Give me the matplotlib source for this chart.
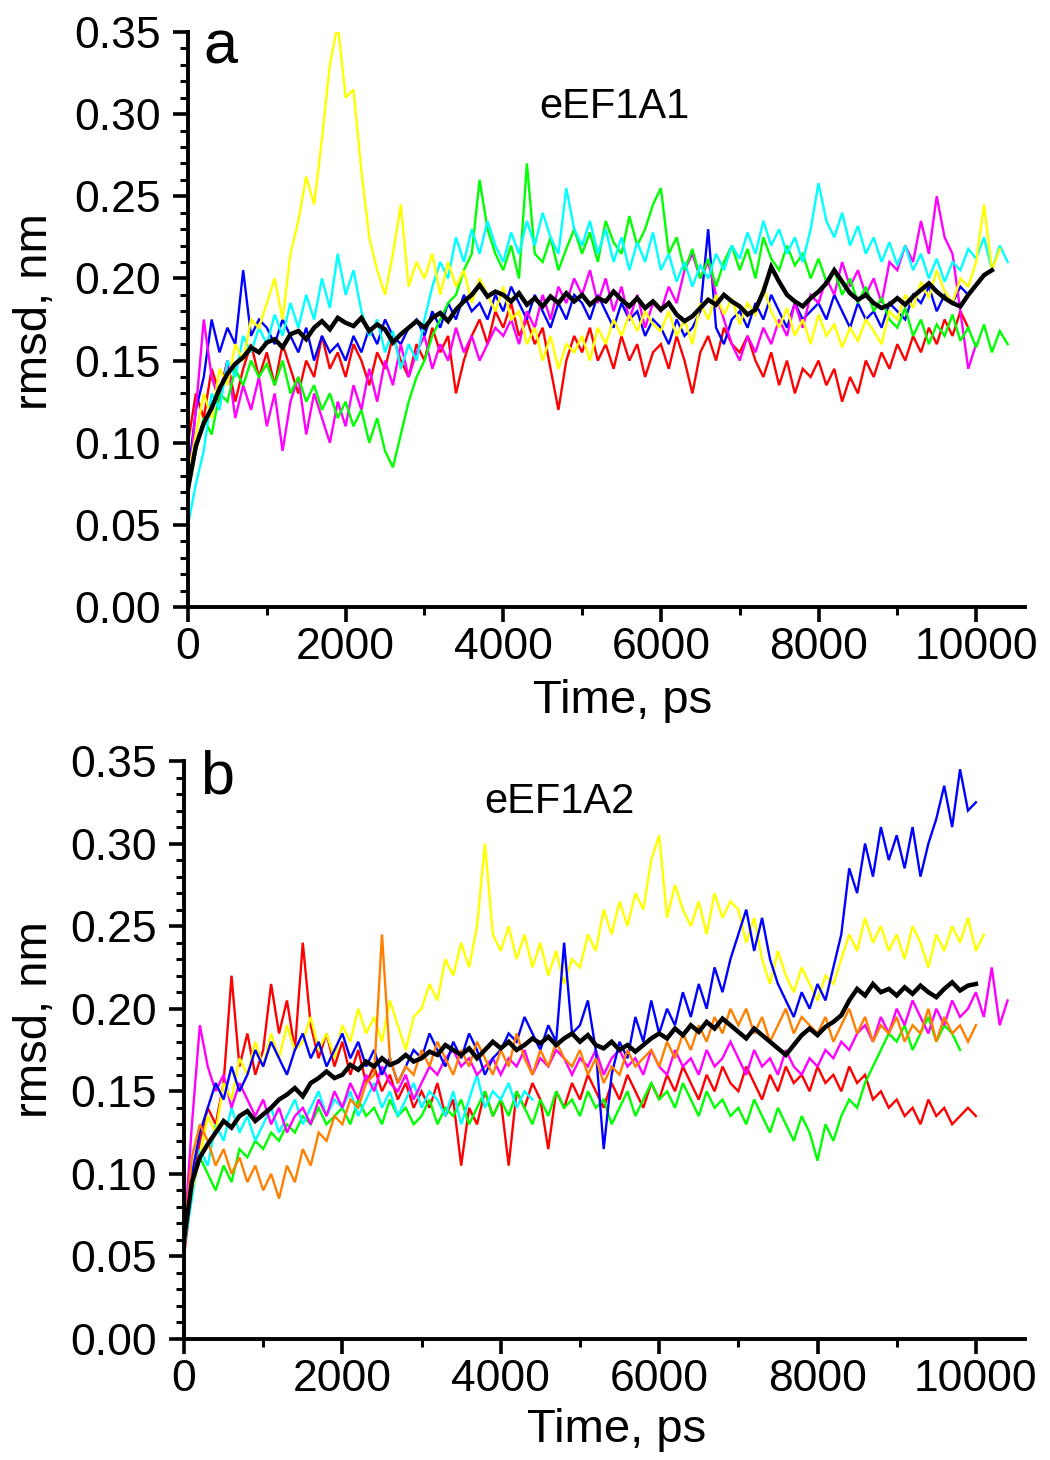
import numpy as np
import matplotlib
matplotlib.use('Agg')
import matplotlib.pyplot as plt
from matplotlib.ticker import MultipleLocator

plt.rcParams['font.family'] = ['Liberation Sans', 'DejaVu Sans']

# traces are sampled every dt ps, starting at t = 0
dt = 100

# ---- panel a: eEF1A1 (rmsd, nm) ----
a_red = [
    0.100, 0.130, 0.115, 0.145, 0.130, 0.150, 0.125, 0.145, 0.160, 0.140,
    0.155, 0.135, 0.160, 0.145, 0.130, 0.150, 0.140, 0.165, 0.145, 0.155,
    0.140, 0.160, 0.150, 0.135, 0.155, 0.145, 0.165, 0.150, 0.140, 0.160,
    0.150, 0.170, 0.155, 0.165, 0.130, 0.150, 0.165, 0.175, 0.160, 0.180,
    0.170, 0.185, 0.165, 0.175, 0.160, 0.170, 0.145, 0.120, 0.150, 0.165,
    0.155, 0.170, 0.150, 0.160, 0.145, 0.165, 0.150, 0.160, 0.140, 0.155,
    0.160, 0.145, 0.165, 0.150, 0.130, 0.155, 0.165, 0.150, 0.170, 0.160,
    0.155, 0.165, 0.150, 0.140, 0.155, 0.135, 0.150, 0.130, 0.145, 0.140,
    0.150, 0.135, 0.145, 0.125, 0.140, 0.130, 0.150, 0.140, 0.155, 0.145,
    0.160, 0.150, 0.165, 0.155, 0.170, 0.160, 0.175, 0.165, 0.180, 0.170,
]
a_blue = [
    0.080, 0.120, 0.140, 0.175, 0.155, 0.170, 0.160, 0.205, 0.165, 0.175,
    0.170, 0.160, 0.175, 0.165, 0.155, 0.170, 0.150, 0.165, 0.155, 0.160,
    0.150, 0.165, 0.155, 0.170, 0.160, 0.175, 0.165, 0.160, 0.170, 0.175,
    0.165, 0.180, 0.170, 0.185, 0.175, 0.190, 0.180, 0.185, 0.175, 0.190,
    0.180, 0.195, 0.185, 0.175, 0.190, 0.180, 0.170, 0.185, 0.175, 0.190,
    0.185, 0.175, 0.190, 0.180, 0.170, 0.185, 0.175, 0.180, 0.165, 0.175,
    0.170, 0.160, 0.175, 0.165, 0.170, 0.180, 0.230, 0.170, 0.160, 0.175,
    0.180, 0.170, 0.185, 0.175, 0.190, 0.180, 0.170, 0.185, 0.175, 0.180,
    0.185, 0.175, 0.190, 0.180, 0.170, 0.185, 0.175, 0.180, 0.170, 0.185,
    0.180, 0.175, 0.190, 0.185, 0.195, 0.180, 0.190, 0.185, 0.195, 0.190,
]
a_magenta = [
    0.070, 0.120, 0.175, 0.140, 0.125, 0.150, 0.115, 0.135, 0.120, 0.140,
    0.110, 0.130, 0.095, 0.125, 0.140, 0.105, 0.130, 0.115, 0.100, 0.125,
    0.110, 0.135, 0.120, 0.145, 0.125, 0.150, 0.135, 0.160, 0.140, 0.155,
    0.165, 0.145, 0.160, 0.150, 0.170, 0.155, 0.165, 0.150, 0.160, 0.170,
    0.165, 0.175, 0.160, 0.180, 0.170, 0.190, 0.175, 0.195, 0.185, 0.200,
    0.190, 0.205, 0.185, 0.200, 0.180, 0.195, 0.175, 0.190, 0.170, 0.185,
    0.180, 0.195, 0.185, 0.205, 0.215, 0.200, 0.210, 0.190, 0.175, 0.160,
    0.150, 0.165, 0.155, 0.170, 0.160, 0.175, 0.165, 0.185, 0.170, 0.190,
    0.185, 0.200, 0.190, 0.210, 0.195, 0.205, 0.190, 0.200, 0.185, 0.210,
    0.205, 0.220, 0.210, 0.235, 0.215, 0.250, 0.225, 0.215, 0.180, 0.145,
    0.160,
]
a_green = [
    0.070, 0.095, 0.115, 0.105, 0.130, 0.125, 0.145, 0.135, 0.150, 0.140,
    0.148, 0.135, 0.150, 0.130, 0.140, 0.125, 0.135, 0.120, 0.130, 0.115,
    0.125, 0.110, 0.120, 0.100, 0.115, 0.095, 0.085, 0.105, 0.125, 0.140,
    0.150, 0.165, 0.175, 0.185, 0.190, 0.205, 0.215, 0.260, 0.230, 0.215,
    0.205, 0.220, 0.200, 0.270, 0.215, 0.210, 0.225, 0.205, 0.218, 0.230,
    0.215, 0.228, 0.210, 0.235, 0.222, 0.215, 0.238, 0.220, 0.230, 0.245,
    0.255, 0.215, 0.225, 0.205, 0.218, 0.200, 0.212, 0.195, 0.210, 0.220,
    0.205, 0.218, 0.200, 0.225, 0.212, 0.205, 0.220, 0.208, 0.215, 0.200,
    0.212, 0.198, 0.205, 0.190, 0.200, 0.185, 0.195, 0.180, 0.188, 0.175,
    0.170, 0.182, 0.165, 0.175, 0.160, 0.172, 0.165, 0.178, 0.162, 0.170,
    0.158, 0.172, 0.155, 0.168, 0.160,
]
a_cyan = [
    0.050, 0.075, 0.095, 0.130, 0.120, 0.150, 0.140, 0.165, 0.155, 0.170,
    0.160, 0.178, 0.165, 0.185, 0.170, 0.190, 0.175, 0.200, 0.182, 0.215,
    0.190, 0.205, 0.180, 0.165, 0.175, 0.155, 0.168, 0.145, 0.160, 0.150,
    0.175, 0.195, 0.210, 0.200, 0.225, 0.210, 0.230, 0.215, 0.235, 0.220,
    0.210, 0.228, 0.215, 0.235, 0.220, 0.240, 0.225, 0.215, 0.255, 0.230,
    0.220, 0.235, 0.215, 0.230, 0.210, 0.225, 0.205, 0.222, 0.210, 0.228,
    0.205, 0.215, 0.198, 0.210, 0.195, 0.208, 0.200, 0.215, 0.205, 0.220,
    0.212, 0.228, 0.215, 0.235, 0.220, 0.230, 0.215, 0.225, 0.210, 0.230,
    0.258, 0.235, 0.225, 0.240, 0.220, 0.232, 0.215, 0.225, 0.210, 0.222,
    0.208, 0.220, 0.205, 0.215, 0.200, 0.212, 0.198, 0.210, 0.205, 0.218,
    0.212, 0.225, 0.205, 0.220, 0.210,
]
a_yellow = [
    0.080, 0.105, 0.130, 0.115, 0.145, 0.135, 0.160, 0.150, 0.175, 0.170,
    0.185, 0.200, 0.175, 0.215, 0.235, 0.262, 0.245, 0.285, 0.330, 0.355,
    0.310, 0.315, 0.265, 0.225, 0.205, 0.190, 0.215, 0.245, 0.195, 0.210,
    0.200, 0.215, 0.190, 0.210, 0.195, 0.205, 0.185, 0.200, 0.190, 0.180,
    0.195, 0.175, 0.180, 0.160, 0.170, 0.150, 0.165, 0.145, 0.160, 0.155,
    0.165, 0.150, 0.170, 0.160, 0.175, 0.165, 0.178, 0.168, 0.180, 0.172,
    0.168, 0.180, 0.165, 0.175, 0.160, 0.185, 0.175, 0.190, 0.178, 0.188,
    0.172, 0.185, 0.178, 0.195, 0.180, 0.170, 0.182, 0.165, 0.175, 0.160,
    0.178, 0.165, 0.172, 0.158, 0.170, 0.162, 0.175, 0.168, 0.160, 0.180,
    0.175, 0.190, 0.182, 0.198, 0.188, 0.205, 0.192, 0.185, 0.200, 0.195,
    0.210, 0.245, 0.205, 0.218,
]
a_black = [
    0.072, 0.098, 0.112, 0.121, 0.133, 0.142, 0.148, 0.152, 0.158, 0.155,
    0.161, 0.163, 0.158, 0.166, 0.168, 0.163, 0.170, 0.174, 0.169, 0.176,
    0.173, 0.171, 0.176, 0.168, 0.172, 0.169, 0.161, 0.166, 0.170, 0.174,
    0.170, 0.176, 0.179, 0.174, 0.181, 0.186, 0.190, 0.196, 0.189, 0.192,
    0.190, 0.186, 0.191, 0.184, 0.188, 0.183, 0.189, 0.185, 0.191, 0.186,
    0.190, 0.184, 0.188, 0.186, 0.192, 0.187, 0.183, 0.188, 0.182, 0.186,
    0.181, 0.185, 0.178, 0.174, 0.177, 0.182, 0.187, 0.184, 0.190, 0.186,
    0.183, 0.178, 0.181, 0.192, 0.207, 0.198, 0.190, 0.186, 0.183, 0.188,
    0.192, 0.197, 0.205, 0.198, 0.191, 0.187, 0.190, 0.185, 0.182, 0.184,
    0.188, 0.184, 0.189, 0.193, 0.197, 0.192, 0.188, 0.185, 0.183, 0.190,
    0.196, 0.202, 0.205,
]

# ---- panel b: eEF1A2 (rmsd, nm) ----
b_red = [
    0.050, 0.090, 0.120, 0.140, 0.130, 0.155, 0.220, 0.165, 0.185, 0.160,
    0.175, 0.215, 0.185, 0.205, 0.175, 0.240, 0.190, 0.170, 0.185, 0.165,
    0.180, 0.160, 0.175, 0.155, 0.165, 0.150, 0.160, 0.145, 0.155, 0.140,
    0.150, 0.140, 0.155, 0.135, 0.145, 0.105, 0.140, 0.130, 0.150, 0.135,
    0.145, 0.105, 0.150, 0.140, 0.155, 0.145, 0.115, 0.150, 0.140, 0.155,
    0.145, 0.160, 0.150, 0.140, 0.155, 0.145, 0.160, 0.150, 0.140, 0.155,
    0.145, 0.160, 0.150, 0.165, 0.155, 0.145, 0.160, 0.150, 0.165, 0.155,
    0.150, 0.165, 0.155, 0.145, 0.160, 0.150, 0.165, 0.155, 0.160, 0.150,
    0.165, 0.155, 0.160, 0.150, 0.165, 0.155, 0.160, 0.145, 0.150, 0.140,
    0.145, 0.135, 0.140, 0.130, 0.145, 0.135, 0.140, 0.130, 0.135, 0.140,
    0.135,
]
b_green = [
    0.060, 0.095, 0.110, 0.100, 0.090, 0.105, 0.095, 0.115, 0.110, 0.120,
    0.115, 0.125, 0.120, 0.130, 0.125, 0.135, 0.130, 0.140, 0.130, 0.135,
    0.140, 0.130, 0.145, 0.135, 0.140, 0.130, 0.145, 0.135, 0.140, 0.130,
    0.135, 0.145, 0.130, 0.140, 0.135, 0.145, 0.130, 0.140, 0.150, 0.135,
    0.145, 0.135, 0.150, 0.140, 0.130, 0.145, 0.135, 0.150, 0.140, 0.145,
    0.135, 0.150, 0.140, 0.145, 0.130, 0.140, 0.150, 0.135, 0.145, 0.155,
    0.145, 0.150, 0.140, 0.155, 0.145, 0.135, 0.150, 0.140, 0.145, 0.135,
    0.140, 0.130, 0.145, 0.135, 0.125, 0.140, 0.130, 0.120, 0.135, 0.125,
    0.108, 0.130, 0.120, 0.135, 0.145, 0.140, 0.155, 0.165, 0.175, 0.185,
    0.180, 0.190, 0.175, 0.185, 0.195, 0.180, 0.190, 0.185, 0.175,
]
b_cyan = [
    0.055, 0.085, 0.115, 0.105, 0.130, 0.120, 0.140, 0.125, 0.135, 0.120,
    0.130, 0.140, 0.125, 0.135, 0.145, 0.130, 0.140, 0.150, 0.135, 0.145,
    0.140, 0.150, 0.135, 0.145, 0.155, 0.140, 0.150, 0.135, 0.145, 0.155,
    0.140, 0.150, 0.145, 0.135, 0.150, 0.130, 0.145, 0.160, 0.140, 0.150,
    0.145, 0.155, 0.140, 0.150, 0.145,
]
b_magenta = [
    0.060, 0.130, 0.190, 0.165, 0.150, 0.160, 0.140, 0.155, 0.145, 0.135,
    0.145, 0.130, 0.140, 0.125, 0.135, 0.140, 0.130, 0.145, 0.135, 0.150,
    0.140, 0.155, 0.145, 0.160, 0.150, 0.165, 0.155, 0.150, 0.160, 0.145,
    0.155, 0.165, 0.160, 0.170, 0.175, 0.165, 0.170, 0.160, 0.165, 0.170,
    0.160, 0.170, 0.165, 0.175, 0.160, 0.170, 0.165, 0.175, 0.170, 0.160,
    0.170, 0.165, 0.175, 0.160, 0.170, 0.175, 0.165, 0.170, 0.160, 0.175,
    0.165, 0.160, 0.175, 0.165, 0.170, 0.160, 0.175, 0.165, 0.170, 0.180,
    0.170, 0.160, 0.175, 0.165, 0.170, 0.160, 0.175, 0.165, 0.160, 0.170,
    0.165, 0.175, 0.170, 0.180, 0.175, 0.185, 0.190, 0.180, 0.195, 0.185,
    0.200, 0.190, 0.205, 0.195, 0.185, 0.200, 0.190, 0.205, 0.195, 0.200,
    0.210, 0.195, 0.225, 0.190, 0.205,
]
b_yellow = [
    0.065, 0.090, 0.110, 0.135, 0.125, 0.155, 0.145, 0.170, 0.160, 0.180,
    0.165, 0.185, 0.170, 0.190, 0.175, 0.180, 0.195, 0.175, 0.185, 0.170,
    0.190, 0.180, 0.200, 0.185, 0.195, 0.180, 0.205, 0.190, 0.175, 0.195,
    0.200, 0.215, 0.205, 0.230, 0.220, 0.240, 0.225, 0.250, 0.300, 0.245,
    0.235, 0.250, 0.230, 0.245, 0.225, 0.240, 0.220, 0.235, 0.215, 0.230,
    0.225, 0.245, 0.235, 0.260, 0.245, 0.265, 0.250, 0.270, 0.260, 0.290,
    0.305, 0.255, 0.275, 0.260, 0.250, 0.265, 0.245, 0.270, 0.255, 0.265,
    0.260, 0.240, 0.255, 0.230, 0.215, 0.235, 0.220, 0.210, 0.225, 0.215,
    0.205, 0.220, 0.215, 0.230, 0.245, 0.235, 0.255, 0.240, 0.250, 0.235,
    0.245, 0.230, 0.250, 0.240, 0.225, 0.245, 0.235, 0.250, 0.240, 0.255,
    0.235, 0.245,
]
b_blue = [
    0.060, 0.100, 0.125, 0.140, 0.155, 0.145, 0.165, 0.150, 0.160, 0.175,
    0.165, 0.180, 0.170, 0.160, 0.175, 0.185, 0.170, 0.180, 0.165, 0.175,
    0.185, 0.170, 0.180, 0.165, 0.175, 0.160, 0.170, 0.155, 0.165, 0.175,
    0.170, 0.185, 0.175, 0.165, 0.180, 0.170, 0.185, 0.175, 0.160, 0.170,
    0.175, 0.185, 0.180, 0.195, 0.185, 0.175, 0.190, 0.180, 0.240, 0.185,
    0.190, 0.205, 0.175, 0.115, 0.160, 0.180, 0.170, 0.195, 0.180, 0.205,
    0.185, 0.200, 0.190, 0.210, 0.195, 0.215, 0.200, 0.225, 0.210, 0.230,
    0.245, 0.260, 0.235, 0.255, 0.230, 0.215, 0.205, 0.195, 0.210, 0.200,
    0.215, 0.205, 0.225, 0.245, 0.285, 0.270, 0.300, 0.280, 0.310, 0.290,
    0.305, 0.285, 0.310, 0.280, 0.300, 0.315, 0.335, 0.310, 0.345, 0.320,
    0.325,
]
b_orange = [
    0.060, 0.110, 0.130, 0.120, 0.105, 0.115, 0.100, 0.110, 0.095, 0.105,
    0.090, 0.100, 0.085, 0.105, 0.095, 0.115, 0.105, 0.125, 0.120, 0.135,
    0.130, 0.145, 0.140, 0.155, 0.160, 0.245, 0.170, 0.155, 0.165, 0.160,
    0.175, 0.165, 0.180, 0.170, 0.160, 0.175, 0.165, 0.180, 0.170, 0.160,
    0.175, 0.165, 0.185, 0.170, 0.160, 0.175, 0.165, 0.180, 0.170, 0.165,
    0.175, 0.160, 0.170, 0.155, 0.165, 0.160, 0.175, 0.165, 0.170, 0.175,
    0.165, 0.180, 0.170, 0.185, 0.175, 0.190, 0.180, 0.195, 0.185, 0.200,
    0.190, 0.200, 0.185, 0.195, 0.180, 0.190, 0.200, 0.185, 0.195, 0.190,
    0.185, 0.195, 0.180, 0.190, 0.200, 0.185, 0.195, 0.180, 0.190, 0.185,
    0.195, 0.180, 0.190, 0.185, 0.200, 0.180, 0.195, 0.185, 0.190, 0.180,
    0.190,
]
b_black = [
    0.060, 0.095, 0.110, 0.118, 0.125, 0.132, 0.128, 0.135, 0.138, 0.132,
    0.136, 0.140, 0.145, 0.148, 0.152, 0.147, 0.155, 0.158, 0.162, 0.158,
    0.160, 0.166, 0.163, 0.168, 0.165, 0.170, 0.166, 0.168, 0.172, 0.168,
    0.170, 0.174, 0.172, 0.178, 0.175, 0.172, 0.176, 0.170, 0.175, 0.180,
    0.176, 0.180, 0.175, 0.178, 0.182, 0.179, 0.183, 0.178, 0.182, 0.185,
    0.180, 0.184, 0.178, 0.176, 0.180, 0.175, 0.178, 0.174, 0.178, 0.182,
    0.185, 0.182, 0.188, 0.184, 0.190, 0.186, 0.192, 0.188, 0.194, 0.190,
    0.186, 0.182, 0.188, 0.184, 0.180, 0.176, 0.172, 0.178, 0.184, 0.188,
    0.184, 0.189, 0.192, 0.196, 0.205, 0.212, 0.208, 0.215, 0.210, 0.212,
    0.208, 0.213, 0.209, 0.214, 0.210, 0.207, 0.212, 0.216, 0.211, 0.214,
    0.215,
]

panel_a = [(a_red, '#FF0000'), (a_blue, '#0000FF'), (a_magenta, '#FF00FF'),
           (a_green, '#00FF00'), (a_cyan, '#00FFFF'), (a_yellow, '#FFFF00'),
           (a_black, '#000000')]
panel_b = [(b_red, '#FF0000'), (b_green, '#00FF00'), (b_cyan, '#00FFFF'),
           (b_magenta, '#FF00FF'), (b_yellow, '#FFFF00'), (b_blue, '#0000FF'),
           (b_orange, '#FF8000'), (b_black, '#000000')]


def draw_panel(ax, traces, letter, letter_xy, name, name_xy, xlab_xy, ylab_xy):
    for vals, col in traces:
        t = np.arange(len(vals)) * dt
        lw = 3.2 if col == '#000000' else 1.7
        ax.plot(t, vals, color=col, lw=lw, solid_joinstyle='miter')

    ax.set_xlim(0, 10620)
    ax.set_ylim(0, 0.35)
    ax.xaxis.set_major_locator(MultipleLocator(2000))
    ax.xaxis.set_minor_locator(MultipleLocator(1000))
    ax.yaxis.set_major_locator(MultipleLocator(0.05))
    ax.yaxis.set_minor_locator(MultipleLocator(0.01))
    ax.yaxis.set_major_formatter(plt.FormatStrFormatter('%.2f'))

    for side in ['top', 'right']:
        ax.spines[side].set_visible(False)
    for side in ['left', 'bottom']:
        ax.spines[side].set_linewidth(2.8)

    ax.tick_params(which='major', direction='out', length=10.5, width=2.6,
                   labelsize=32)
    ax.tick_params(which='minor', direction='out', length=5.5, width=2.2)
    ax.tick_params(axis='x', which='major', pad=4)
    ax.tick_params(axis='y', which='major', pad=9)

    ax.set_xlabel('Time, ps', fontsize=34, va='center')
    ax.xaxis.set_label_coords(*xlab_xy)
    ax.set_ylabel('rmsd, nm', fontsize=34, va='center')
    ax.yaxis.set_label_coords(*ylab_xy)

    ax.text(letter_xy[0], letter_xy[1], letter, transform=ax.transAxes,
            fontsize=44, ha='left', va='baseline')
    ax.text(name_xy[0], name_xy[1], name, transform=ax.transAxes,
            fontsize=30, ha='center', va='baseline')


fig = plt.figure(figsize=(10.5, 14.6), dpi=100)
ax_a = fig.add_axes([188 / 1050, 1 - 607 / 1460, 837 / 1050, 575 / 1460])
ax_b = fig.add_axes([184 / 1050, 1 - 1339 / 1460, 841 / 1050, 578 / 1460])

draw_panel(ax_a, panel_a, 'a', (0.018, 0.946), 'eEF1A1', (0.510, 0.850),
           (0.519, -0.163), (-0.183, 0.513))
draw_panel(ax_b, panel_b, 'b', (0.019, 0.943), 'eEF1A2', (0.447, 0.910),
           (0.515, -0.157), (-0.177, 0.552))

fig.savefig('out.png', dpi=100)
